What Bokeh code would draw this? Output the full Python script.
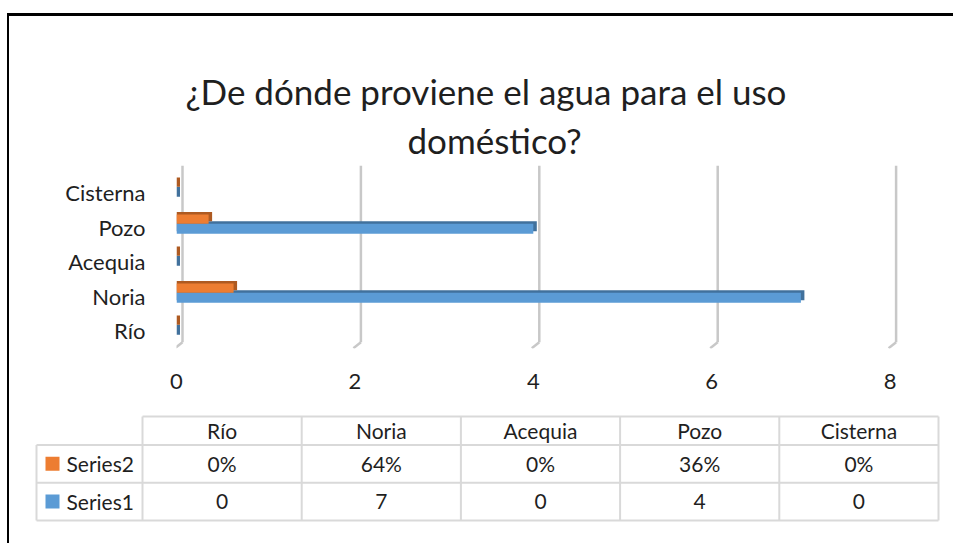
from bokeh.plotting import figure
from bokeh.models import Range1d, FixedTicker, Title, Div
from bokeh.layouts import column, row
from bokeh.embed import file_html
from bokeh.resources import INLINE
from bokeh.core.properties import value

# ---------------- data ----------------
categories = ["Río", "Noria", "Acequia", "Pozo", "Cisterna"]
series1 = [0, 7, 0, 4, 0]
series2 = [0.0, 0.64, 0.0, 0.36, 0.0]
series_names = ["Series1", "Series2"]
x_ticks = [0, 2, 4, 6, 8]
title_lines = ["¿De dónde proviene el agua para el uso", "doméstico?"]

# ---------------- style ----------------
FONT = "Lato"
TXT = "#1f1f1f"
BLUE, BLUE_D = "#5B9BD5", "#41719C"
ORANGE, ORANGE_D = "#ED7D31", "#AE5A21"
GRID = "#C8C8C8"
TABLE_LINE = "#D9D9D9"

PX_X = 89.2     # pixels per x unit
PX_Y = 34.5     # pixels per category
FRAME_W = 731
FRAME_H = 183
Y_START = -18 / PX_Y
FIG_W = 944

ys = list(range(len(categories)))

p = figure(width=FIG_W, height=384,
           x_range=Range1d(0, FRAME_W / PX_X),
           y_range=Range1d(Y_START, Y_START + FRAME_H / PX_Y),
           output_backend="svg", toolbar_location=None, title=None,
           min_border_left=167, min_border_right=FIG_W - 167 - FRAME_W,
           min_border_top=149, min_border_bottom=52, frame_align=False)
p.outline_line_color = None
p.grid.visible = False
p.background_fill_color = "white"
p.border_fill_color = "white"

# back-wall gridlines with 3D floor foot
gdx = 6 / PX_X
g_bot = -11.7 / PX_Y
y_top = Y_START + FRAME_H / PX_Y
p.segment(x0=[v + gdx for v in x_ticks], y0=[g_bot] * len(x_ticks),
          x1=[v + gdx for v in x_ticks], y1=[y_top] * len(x_ticks),
          line_color=GRID, line_width=2.5)
p.segment(x0=[v + gdx for v in x_ticks], y0=[g_bot] * len(x_ticks),
          x1=[v + gdx - 7.5 / PX_X for v in x_ticks], y1=[g_bot - 6 / PX_Y] * len(x_ticks),
          line_color=GRID, line_width=2.5)

# 3D-ish bars
dx3 = 3.5 / PX_X
dy3 = 2.5 / PX_Y
h1, off1 = 10 / PX_Y, -1.7 / PX_Y
h2, off2 = 9.3 / PX_Y, 7.9 / PX_Y

p.hbar(y=[y + off1 + dy3 for y in ys], left=0, right=[v + dx3 for v in series1],
       height=h1, fill_color=BLUE_D, line_color=None)
p.hbar(y=[y + off1 for y in ys], left=0, right=series1,
       height=h1, fill_color=BLUE, line_color=None)
p.hbar(y=[y + off2 + dy3 for y in ys], left=0, right=[v + dx3 for v in series2],
       height=h2, fill_color=ORANGE_D, line_color=None)
p.hbar(y=[y + off2 for y in ys], left=0, right=series2,
       height=h2, fill_color=ORANGE, line_color=None)

# axes
p.yaxis.ticker = FixedTicker(ticks=ys)
p.yaxis.major_label_overrides = {i: c for i, c in zip(ys, categories)}
p.xaxis.ticker = FixedTicker(ticks=x_ticks)
for ax in (p.xaxis, p.yaxis):
    ax.axis_line_color = None
    ax.major_tick_line_color = None
    ax.minor_tick_line_color = None
    ax.major_label_text_font = FONT
    ax.major_label_text_font_size = "22px"
    ax.major_label_text_color = TXT
p.yaxis.major_label_standoff = 25
p.xaxis.major_label_standoff = 19

# title (two lines), left-aligned to frame with offsets so they sit centred like the reference
p.add_layout(Title(text=title_lines[1], align="left", offset=231,
                   text_font=FONT, text_font_size="35px", text_font_style="normal",
                   text_color=TXT, standoff=10), "above")
p.add_layout(Title(text=title_lines[0], align="left", offset=9,
                   text_font=FONT, text_font_size="35px", text_font_style="normal",
                   text_color=TXT, standoff=0), "above")

# ---------------- data table ----------------
COL_W = 159.2
LEG_W = 106
ROW_H = 37.8
HEAD_H = 28.4
PAD = 3
n = len(categories)
leg_u = LEG_W / COL_W
hh = HEAD_H / ROW_H
T_H = 143
T_FRAME_H = round(2 * ROW_H + HEAD_H + 2 * PAD)
T_FRAME_W = round(LEG_W + n * COL_W + 2 * PAD)

t = figure(width=FIG_W, height=T_H,
           x_range=Range1d(-leg_u - PAD / COL_W, n + PAD / COL_W),
           y_range=Range1d(-PAD / ROW_H, 2 + hh + PAD / ROW_H),
           output_backend="svg", toolbar_location=None,
           x_axis_location=None, y_axis_location=None,
           min_border_left=24, min_border_right=FIG_W - 24 - T_FRAME_W,
           min_border_top=13, min_border_bottom=T_H - 13 - T_FRAME_H, frame_align=False)
t.outline_line_color = None
t.grid.visible = False

# table lines
hx0 = [0, -leg_u, -leg_u, -leg_u]
hy = [2 + hh, 2, 1, 0]
t.segment(x0=hx0, y0=hy, x1=[n] * 4, y1=hy, line_color=TABLE_LINE, line_width=2)
vx = [-leg_u] + list(range(n + 1))
vy1 = [2] + [2 + hh] * (n + 1)
t.segment(x0=vx, y0=[0] * len(vx), x1=vx, y1=vy1, line_color=TABLE_LINE, line_width=2)

cx = [j + 0.5 for j in range(n)]
txt_kw = dict(text_font=value(FONT), text_font_size="21px", text_color=TXT,
              text_align="center", text_baseline="middle")
t.text(x=cx, y=[2 + hh / 2] * n, text=categories, **txt_kw)
t.text(x=cx, y=[1.5] * n, text=[f"{round(v * 100)}%" for v in series2], **txt_kw)
t.text(x=cx, y=[0.5] * n, text=[str(v) for v in series1], **txt_kw)

# legend keys inside the table
t.scatter(x=[-90 / COL_W] * 2, y=[1.5, 0.5], marker="square", size=14,
          fill_color=[ORANGE, BLUE], line_color=None)
t.text(x=[-76 / COL_W] * 2, y=[1.5, 0.5], text=[series_names[1], series_names[0]],
       text_font=value(FONT), text_font_size="21px", text_color=TXT,
       text_align="left", text_baseline="middle")

# ---------------- frame border & layout ----------------
top_line = Div(width=FIG_W, height=3, margin=0, styles={"background-color": "black"})
left_line = Div(width=2, height=3 + 384 + T_H, margin=0, styles={"background-color": "black"})
left_gap = Div(width=7, height=10, margin=0)
top_gap = Div(width=10, height=13, margin=0)

layout = column(top_gap, row(left_gap, left_line, column(top_line, p, t)))

open("out.html", "w").write(file_html(layout, INLINE))
